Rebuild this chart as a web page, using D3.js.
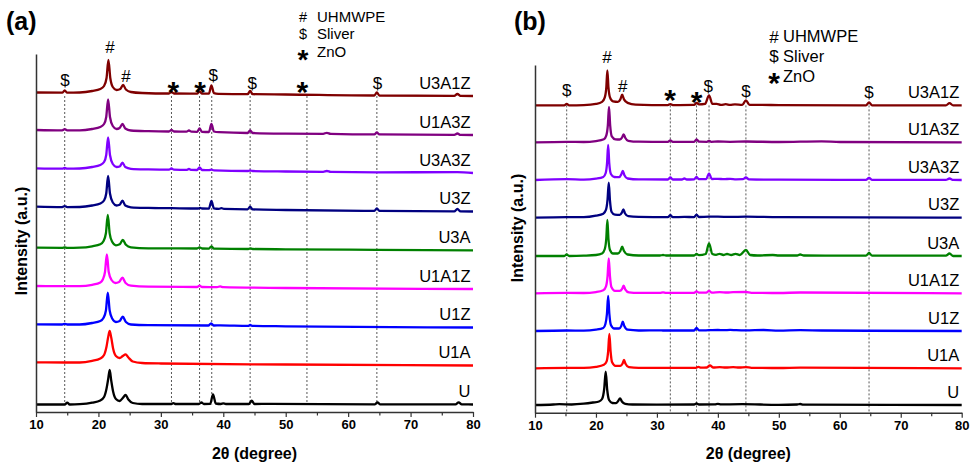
<!DOCTYPE html>
<html><head><meta charset="utf-8">
<script src="https://cdn.jsdelivr.net/npm/d3@7"></script>
<style>
html,body{margin:0;padding:0;background:#fff;}
svg{display:block;font-family:"Liberation Sans",Arial,sans-serif;}
</style></head>
<body><svg id="chart" width="970" height="466"></svg>
<script>
// ---------- DATA ----------
const seriesNames = ["U","U1A","U1Z","U1A1Z","U3A","U3Z","U3A3Z","U1A3Z","U3A1Z"];
const seriesColors = ["#000000","#ff0000","#0000ff","#ff00ff","#008000","#000080","#7f00ff","#800080","#7f0000"];
const xTicks = [10,20,30,40,50,60,70,80];
const xMinorTicks = [15,25,35,45,55,65,75];
const legendItems = [["#","UHMWPE"],["$","Sliver"],["*","ZnO"]];

// vertical stacking offsets (a.u.)
const offsetsA = [7.5,46.5,84.5,123,161.7,200.5,239,277,316];
const offsetsB = [7.7,44.4,81.7,119.4,156.7,195,232.7,270.4,307.3];

// reference (dashed) line positions, 2θ
const refLinesA = [14.6,31.7,36.2,38.15,44.3,53.4,64.6];
const refLinesB = [15.2,32.2,36.5,38.55,44.6,64.8];

// peak annotations: [symbol, 2θ, intensity level]
const peakMarksA = [["#",21.85,358.7],["#",24.4,330.3],["$",14.65,326],["*",32.0,327.3],["*",36.3,327.3],["$",38.4,331.5],["$",44.65,323.2],["*",52.65,327],["$",64.7,323.2]];
const peakMarksB = [["#",21.8,349.4],["#",24.4,321],["$",15.2,316.7],["*",32.15,319.4],["*",36.5,317.4],["$",38.4,320.7],["$",44.6,315.7],["$",64.8,314.7]];

// ---------- Panel (a) spectra [2θ, intensity] ----------
const a_U = [[10,0],[14.6,0],[15.0,1.8],[15.4,0],[17,0.3],[19,1.8],[20.3,4],[20.9,7.5],[21.3,16],[21.55,25],[21.8,34.5],[22.05,24],[22.35,13],[22.8,5.5],[23.4,3.5],[23.9,6.5],[24.35,9.5],[24.8,5],[25.5,1.5],[27,0.5],[31.6,0.5],[32,1.3],[32.4,0.5],[36.1,0.5],[36.5,2],[36.9,0.5],[37.9,0.6],[38.35,10],[38.8,1],[39.6,0.5],[40,1.2],[40.4,0.5],[44.1,0.5],[44.55,3.8],[45,0.5],[47.5,0.7],[64.3,0.2],[64.7,2.2],[65.1,0.2],[77.2,0.2],[77.7,2.2],[78.2,0.1],[80,0]];
const a_U1A = [[10,3.2],[14.6,3],[17,3],[19,4.7],[20.3,7],[20.9,10.5],[21.3,19],[21.55,28],[21.8,34.5],[22.05,28],[22.35,17],[22.8,9.5],[23.4,7.5],[23.9,9.5],[24.35,11.2],[24.8,8],[25.5,4],[27,2.5],[30,2],[50,1],[80,0]];
const a_U1Z = [[10,3.2],[14.2,3],[14.6,3.6],[15,3],[17,3],[19,4.5],[20.3,6.5],[20.8,9.5],[21.2,17],[21.5,34.8],[21.8,17],[22.2,9],[22.8,5.5],[23.4,6.5],[23.9,10.8],[24.4,5.5],[25.2,3],[28,2.3],[37.6,2],[38.05,4.2],[38.5,2],[39.5,2.1],[44,1.6],[44.3,2.5],[44.7,1.6],[50,1.2],[80,0]];
const a_U1A1Z = [[10,3],[14.6,2.8],[17,2.8],[19,4.2],[20.3,6.5],[20.7,9.5],[21.05,17],[21.35,34.7],[21.65,17],[22.1,9],[22.7,6],[23.3,7],[23.85,11.3],[24.35,6],[25.2,3.3],[28,2.3],[35.8,2],[36.2,3.3],[36.6,2],[39,1.8],[39.5,2.6],[40,1.8],[50,1],[80,0]];
const a_U3A = [[10,2.6],[14.2,2.4],[14.6,3],[15,2.4],[17,2.6],[19,4],[20.3,6],[20.8,9],[21.2,17],[21.5,35.3],[21.8,17],[22.2,8.5],[22.8,5],[23.4,6],[23.9,10.3],[24.4,5.5],[25.2,3],[28,2],[35.8,1.8],[36.2,3],[36.6,1.8],[37.7,1.7],[38.1,4],[38.5,1.7],[44,1.3],[44.3,2],[44.7,1.3],[50,1],[64.6,0.5],[80,0]];
const a_U3Z = [[10,4.8],[14.2,4.4],[14.6,5.4],[15,4.4],[17,4.5],[19,6],[20.3,8],[20.9,11],[21.25,18],[21.55,35.5],[21.85,18],[22.3,9],[22.9,6],[23.4,6.7],[23.85,10.8],[24.3,6],[25.2,4.2],[28,3.6],[31.7,3.3],[36,3],[36.3,3.6],[36.6,3],[37.7,2.9],[38.1,10.5],[38.5,3.2],[39.3,2.7],[39.7,3.4],[40.1,2.6],[43.9,2.2],[44.3,4.8],[44.7,2.1],[50,1.5],[64.2,0.7],[64.6,3],[65,0.6],[77,0.2],[77.5,2.5],[78,0.1],[80,0]];
const a_U3A3Z = [[10,4.7],[14.2,4.3],[14.6,5],[15,4.3],[17,4.5],[19,6],[20.3,8],[20.9,11],[21.25,18],[21.55,35.7],[21.85,18],[22.3,9],[22.9,6],[23.4,6.5],[23.85,10.3],[24.3,6],[25.2,4.2],[28,3.6],[31.3,3.3],[31.7,4.5],[32.1,3.3],[34.1,3.1],[34.5,4],[34.9,3.1],[35.8,3],[36.2,5.5],[36.6,3],[37.7,2.8],[38.1,3.3],[38.5,2.7],[44,2],[44.3,2.5],[44.7,2],[50,1.5],[56,1.2],[56.6,2],[57.2,1.1],[64.6,0.7],[77.5,0.8],[80,0]];
const a_U1A3Z = [[10,5],[14.2,4.6],[14.6,5.8],[15.0,4.6],[17,4.6],[19,6],[20.3,8],[20.9,11],[21.25,18],[21.55,35.7],[21.85,18],[22.3,9],[22.9,6],[23.4,7],[23.85,11],[24.3,6.5],[25.2,4.5],[28,3.8],[31.3,3.5],[31.7,5],[32.1,3.5],[34.1,3.3],[34.5,4.5],[34.9,3.3],[35.8,3.2],[36.2,6.5],[36.6,3.2],[37.7,3],[38.1,11],[38.5,3.5],[39.3,2.8],[43.9,2],[44.3,4.5],[44.7,2],[50,1.4],[56,1.2],[56.6,2.2],[57.2,1.1],[64.2,0.6],[64.6,2.5],[65,0.6],[77,0.2],[77.5,1.5],[78,0.1],[80,0]];
const a_U3A1Z = [[10,3.5],[14.2,3.3],[14.6,5.5],[15.0,3.3],[17,3.5],[19,5],[20.3,7],[20.9,10],[21.3,18],[21.6,36],[21.9,18],[22.3,9],[22.9,6],[23.5,7],[23.95,11],[24.4,6.5],[25.2,4],[27,3],[31.3,2.5],[31.7,4],[32.1,2.5],[35.8,2.3],[36.2,4.5],[36.6,2.3],[37.7,2.3],[38.1,10.5],[38.5,2.8],[39.2,2.2],[43.9,1.8],[44.3,5],[44.7,1.8],[50,1.5],[64.2,0.5],[64.6,3.5],[65.0,0.5],[77,0.1],[77.5,2],[78,0.1],[80,0]];

// ---------- Panel (b) spectra [2θ, intensity] ----------
const b_U = [[10,0],[13,0.5],[14,0.8],[16,0.5],[18,1.3],[19.5,2.5],[20.5,3.5],[21.0,6],[21.35,16],[21.6,33.3],[21.85,15],[22.15,5],[22.7,2],[23.3,1.8],[23.65,4],[23.95,6.7],[24.25,3.5],[24.8,1.2],[26,0.5],[30,0.3],[36.1,0.5],[36.5,1.5],[36.9,0.5],[39.5,0.6],[40,1.2],[40.5,0.6],[44,0.8],[50,0.2],[53,0.5],[53.5,1],[54,0.3],[80,0]];
const b_U1A = [[10,0],[15.2,0.4],[18,0.4],[20,1.5],[21.3,3.5],[21.75,7],[22.0,17],[22.2,34.3],[22.4,17],[22.65,6],[23.2,2.5],[24.0,2.5],[24.35,4.5],[24.6,8.3],[24.85,4.5],[25.4,1.2],[27,0.5],[36.4,0.5],[36.8,1.5],[37.2,0.6],[38.2,0.8],[38.7,3],[39.2,0.8],[40.3,1.2],[41.3,0.8],[42.5,1.2],[43.5,0.8],[44.6,1.2],[45.5,0.5],[50,0.3],[53.5,0.7],[80,0]];
const b_U1Z = [[10,0],[15.2,0.5],[18,0.3],[20,1.3],[21.2,3],[21.55,7],[21.8,17],[22.0,35],[22.2,17],[22.45,6],[23.0,2.5],[23.8,2.5],[24.15,5],[24.4,9.3],[24.65,5],[25.2,1.3],[27,0.5],[30.5,0.7],[31,0.5],[36.1,0.5],[36.5,3],[36.9,0.6],[38.55,0.8],[40,1],[41,0.8],[42,1.1],[43,0.8],[44.6,0.6],[47.5,1],[50,0.4],[53.5,0.8],[57,0.5],[80,0]];
const b_U1A1Z = [[10,0],[15.2,0.4],[18,0.3],[20,1.2],[21.2,3],[21.65,7],[21.9,17],[22.1,35],[22.3,17],[22.55,6],[23.1,2.5],[23.9,2.5],[24.3,4.5],[24.55,7.6],[24.8,4],[25.4,1],[27,0.4],[30.5,0.5],[31,1],[31.5,0.4],[36.1,0.4],[36.5,2],[36.9,0.6],[38.1,0.6],[38.55,2.5],[39,0.6],[40.3,1.2],[41.5,0.8],[42.5,1.2],[44.6,1.3],[45.5,0.5],[50,0.3],[53.5,0.8],[80,0]];
const b_U3A = [[10,0],[14.8,0],[15.2,1.5],[15.6,0],[18,0.3],[20,1],[21.0,2.5],[21.45,7],[21.7,18],[21.87,36],[22.05,17],[22.3,6],[22.8,2.5],[23.6,2.5],[24.0,5],[24.3,9.3],[24.6,5],[25.2,1.5],[27,0.5],[30.5,0.5],[31,1],[31.5,0.5],[36.1,0.5],[36.5,2],[36.9,0.8],[38.0,2],[38.55,12.7],[39.1,2],[39.7,1.2],[40.3,2.2],[40.9,1],[41.5,2],[42.2,1],[42.9,2.2],[43.6,1],[44.6,6],[45.3,1],[46.5,0.5],[49,1],[50,0.5],[53,0.5],[53.5,1.5],[54.1,0.5],[64.3,0.3],[64.8,3],[65.3,0.3],[77.4,0.3],[78,2.5],[78.6,0],[80,0]];
const b_U3Z = [[10,0],[15.2,0.5],[18,0.5],[20,2],[21.2,4],[21.65,8],[21.9,18],[22.1,35],[22.3,17],[22.55,6],[23.1,3],[23.9,2.8],[24.25,5],[24.5,8.4],[24.75,4.5],[25.3,1.5],[27,0.8],[31.8,0.5],[32.2,2.5],[32.6,0.5],[34.5,0.8],[36.1,0.6],[36.5,3],[36.9,0.7],[38.55,1],[40,1],[42,0.8],[44.6,1],[50,0.5],[80,0]];
const b_U3A3Z = [[10,0],[15.2,0.8],[18,0.3],[20,1.3],[21.2,3],[21.6,7],[21.82,17],[22.0,35],[22.18,17],[22.45,6],[23.0,3],[23.8,2.8],[24.15,5.5],[24.4,9],[24.65,5],[25.2,1.5],[27,0.6],[31.8,0.5],[32.2,2.5],[32.6,0.5],[34.1,0.5],[34.5,1.5],[34.9,0.5],[36.1,0.7],[36.5,3],[36.9,0.8],[38.1,1],[38.55,6.7],[39.0,1],[40,1.2],[41,0.8],[42,1.2],[43,0.7],[44.1,0.8],[44.6,2.5],[45.1,0.6],[50,0.3],[64.3,0.2],[64.8,2],[65.3,0.2],[77.4,0.2],[78,1.5],[78.6,0.1],[80,0]];
const b_U1A3Z = [[10,0],[15.2,0.5],[18,0.3],[20,1.2],[21.3,3],[21.7,7],[21.95,17],[22.14,35.5],[22.33,17],[22.6,6],[23.2,3],[23.9,2.8],[24.3,5],[24.55,8],[24.8,4.5],[25.3,1.5],[27,0.6],[31.8,0.4],[32.2,2],[32.6,0.4],[36.1,0.5],[36.5,3],[36.9,0.6],[38.2,0.5],[38.55,1.5],[38.9,0.5],[40,0.8],[42,0.5],[44.6,0.8],[50,0.3],[57,1],[60,0.3],[80,0]];
const b_U3A1Z = [[10,0],[14.8,0],[15.2,1.5],[15.6,0],[18,0.3],[20,1.5],[21.0,3.5],[21.45,8],[21.7,18],[21.87,35],[22.05,18],[22.3,8],[22.8,4],[23.6,3.5],[24.0,6],[24.3,10.7],[24.6,6],[25.2,2.5],[26.5,0.8],[31.8,0.3],[32.2,1.3],[32.6,0.3],[36.1,0.5],[36.5,2.5],[36.9,1],[37.9,1.5],[38.55,10],[39.1,1.5],[39.8,1.5],[40.5,0.5],[41.3,1.2],[42,0.5],[42.8,1],[44.0,0.5],[44.6,5],[45.2,0.5],[47,0.5],[50,0.3],[64.3,0],[64.8,3],[65.3,0],[77.4,0],[78,2.3],[78.6,0],[80,0]];

const spectraA = [a_U,a_U1A,a_U1Z,a_U1A1Z,a_U3A,a_U3Z,a_U3A3Z,a_U1A3Z,a_U3A1Z];
const spectraB = [b_U,b_U1A,b_U1Z,b_U1A1Z,b_U3A,b_U3Z,b_U3A3Z,b_U1A3Z,b_U3A1Z];

// ---------- DRAW ----------
const svg = d3.select("#chart");
svg.append("rect").attr("width",970).attr("height",466).attr("fill","#fff");

function panel(cfg){
  const {x, y, spectra, offsets, refLines, marks, tag, tagPos, legendPos, ytitlePos, xtitleY} = cfg;
  const g = svg.append("g");

  // dashed reference lines
  g.selectAll("line.ref").data(refLines).enter().append("line")
    .attr("x1", d=>x(d)).attr("x2", d=>x(d))
    .attr("y1", y(offsets[offsets.length-1])).attr("y2", y(cfg.refBottom))
    .attr("stroke","#444").attr("stroke-width",0.9).attr("stroke-dasharray","2,2");

  // spectra
  const line = d3.line().curve(d3.curveMonotoneX);
  spectra.forEach((pts,i)=>{
    g.append("path")
      .attr("d", line(pts.map(p=>[x(p[0]), y(p[1]+offsets[i])])))
      .attr("fill","none").attr("stroke",seriesColors[i])
      .attr("stroke-width",2.3).attr("stroke-linejoin","round");
    g.append("text").attr("x", x(79.6)).attr("y", y(offsets[i]) - 7.5)
      .attr("text-anchor","end").attr("font-size",16.5).attr("fill","#000")
      .text(seriesNames[i]);
  });

  // axes
  const xAxis = d3.axisBottom(x).tickValues(xTicks).tickSize(5).tickSizeOuter(0).tickPadding(3);
  const ax = g.append("g").attr("transform",`translate(0,${y.range()[0]})`).call(xAxis);
  ax.select(".domain").attr("stroke","#333").attr("stroke-width",1.5);
  ax.selectAll(".tick line").attr("stroke","#333").attr("stroke-width",1.2);
  ax.selectAll(".tick text").attr("font-size",13).attr("font-weight","bold")
    .attr("font-family","Liberation Sans, Arial, sans-serif").attr("fill","#000");
  const axm = g.append("g").attr("transform",`translate(0,${y.range()[0]})`)
    .call(d3.axisBottom(x).tickValues(xMinorTicks).tickSize(3.5).tickSizeOuter(0).tickFormat(""));
  axm.select(".domain").remove();
  axm.selectAll(".tick line").attr("stroke","#333").attr("stroke-width",1.2);
  const ay = g.append("g").attr("transform",`translate(${x.range()[0]},0)`)
    .call(d3.axisLeft(y).tickValues([]).tickSizeOuter(0));
  ay.select(".domain").attr("stroke","#333").attr("stroke-width",1.5);

  // axis titles
  g.append("text").attr("x",(x.range()[0]+x.range()[1])/2).attr("y",xtitleY)
    .attr("text-anchor","middle").attr("font-size",16).attr("font-weight","bold")
    .text("2θ (degree)");
  g.append("text").attr("transform",`translate(${ytitlePos[0]},${ytitlePos[1]}) rotate(-90)`)
    .attr("text-anchor","middle").attr("font-size",16).attr("font-weight","bold")
    .text("Intensity (a.u.)");

  // peak marks
  marks.forEach(m=>{
    const t = g.append("text").attr("x", x(m[1])).attr("text-anchor","middle").attr("fill","#000");
    if(m[0]==="*"){
      t.attr("y", y(m[2]) + 17).attr("font-size",30).attr("font-weight","bold").text("*");
    } else {
      t.attr("y", y(m[2])).attr("font-size",17).text(m[0]);
    }
  });

  // panel tag
  g.append("text").attr("x",tagPos[0]).attr("y",tagPos[1]).attr("font-size",25)
    .attr("font-weight","bold").text(tag);

  // legend
  legendItems.forEach((it,i)=>{
    const ly = legendPos.ys[i];
    const s = g.append("text").attr("x",legendPos.sx).attr("text-anchor","middle");
    if(it[0]==="*") s.attr("y",ly+11.5).attr("font-size",legendPos.starFs).attr("font-weight","bold").text("*");
    else s.attr("y",ly + (it[0]==="#" ? legendPos.hashDy : 0)).attr("font-size",legendPos.symFs).text(it[0]);
    g.append("text").attr("x",legendPos.tx).attr("y",ly).attr("font-size",legendPos.fs).text(it[1]);
  });
}

const xA = d3.scaleLinear().domain([10,80]).range([36,473]);
const yA = d3.scaleLinear().domain([0,358]).range([412,54]);
const xB = d3.scaleLinear().domain([10,80]).range([535,961.7]);
const yB = d3.scaleLinear().domain([0,347.7]).range([412.7,65]);

panel({x:xA, y:yA, spectra:spectraA, offsets:offsetsA, refLines:refLinesA, refBottom:offsetsA[0],
  marks:peakMarksA, tag:"(a)", tagPos:[6,30], xtitleY:459, ytitlePos:[27,241],
  legendPos:{sx:303, tx:317, ys:[21.5,39,57.3], hashDy:0, fs:15, symFs:14.5, starFs:28}});
panel({x:xB, y:yB, spectra:spectraB, offsets:offsetsB, refLines:refLinesB, refBottom:0,
  marks:peakMarksB, tag:"(b)", tagPos:[514,30], xtitleY:459, ytitlePos:[522.5,228],
  legendPos:{sx:774, tx:783, ys:[41.7,61.7,81.7], hashDy:1.6, fs:16.5, symFs:17, starFs:30}});
</script></body></html>
